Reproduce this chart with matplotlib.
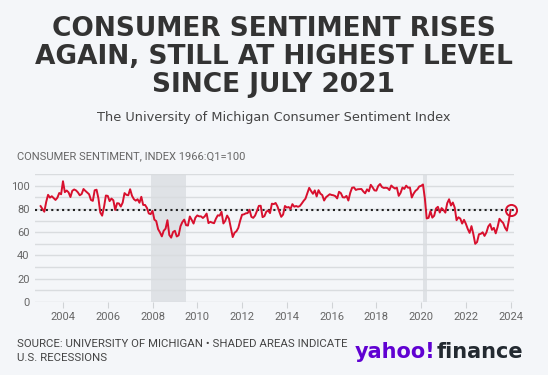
import numpy as np
import matplotlib.pyplot as plt

# monthly index values, Jan 2003 .. Jan 2024
sentiment = [
    82.4, 79.9, 77.6, 86.0, 92.1, 89.7, 90.9, 89.3, 87.7, 89.6, 93.7, 92.6,   # 2003
    103.8, 94.4, 95.8, 94.2, 90.2, 95.6, 96.7, 95.9, 94.2, 91.7, 92.8, 97.1,  # 2004
    95.5, 94.1, 92.6, 87.7, 86.9, 96.0, 96.5, 89.1, 76.9, 74.2, 81.6, 91.5,   # 2005
    91.2, 86.7, 88.9, 87.4, 79.1, 84.9, 84.7, 82.0, 85.4, 93.6, 92.1, 91.7,   # 2006
    96.9, 91.3, 88.4, 87.1, 88.3, 85.3, 90.4, 83.4, 83.4, 80.9, 76.1, 75.5,   # 2007
    78.4, 70.8, 69.5, 62.6, 59.8, 56.4, 61.2, 63.0, 70.3, 57.6, 55.3, 60.1,   # 2008
    61.2, 56.3, 57.3, 65.1, 68.7, 70.8, 66.0, 65.7, 73.5, 70.6, 67.4, 72.5,   # 2009
    74.4, 73.6, 73.6, 72.2, 73.6, 76.0, 67.8, 68.9, 68.2, 67.7, 71.6, 74.5,   # 2010
    74.2, 77.5, 67.5, 69.8, 74.3, 71.5, 63.7, 55.8, 59.5, 60.8, 63.7, 69.9,   # 2011
    75.0, 75.3, 76.2, 76.4, 79.3, 73.2, 72.3, 74.3, 78.3, 82.6, 82.7, 72.9,   # 2012
    73.8, 77.6, 78.6, 76.4, 84.5, 84.1, 85.1, 82.1, 77.5, 73.2, 75.1, 82.5,   # 2013
    81.2, 81.6, 80.0, 84.1, 81.9, 82.5, 81.8, 82.5, 84.6, 86.9, 88.8, 93.6,   # 2014
    98.1, 95.4, 93.0, 95.9, 90.7, 96.1, 93.1, 91.9, 87.2, 90.0, 91.3, 92.6,   # 2015
    92.0, 91.7, 91.0, 89.0, 94.7, 93.5, 90.0, 89.8, 91.2, 87.2, 93.8, 98.2,   # 2016
    98.5, 96.3, 96.9, 97.0, 97.1, 95.0, 93.4, 96.8, 95.1, 100.7, 98.5, 95.9,  # 2017
    95.7, 99.7, 101.4, 98.8, 98.0, 98.2, 97.9, 96.2, 100.1, 98.6, 97.5, 98.3, # 2018
    91.2, 93.8, 98.4, 97.2, 100.0, 98.2, 98.4, 89.8, 93.2, 95.5, 96.8, 99.3,  # 2019
    99.8, 101.0, 89.1, 71.8, 72.3, 78.1, 72.5, 74.1, 80.4, 81.8, 76.9, 80.7,  # 2020
    79.0, 76.8, 84.9, 88.3, 82.9, 85.5, 81.2, 70.3, 72.8, 71.7, 67.4, 70.6,   # 2021
    67.2, 62.8, 59.4, 65.2, 58.4, 50.0, 51.5, 58.2, 58.6, 59.9, 56.8, 59.7,   # 2022
    64.9, 67.0, 62.0, 63.7, 59.0, 64.4, 71.5, 69.5, 67.9, 63.8, 61.3, 69.7,   # 2023
    79.0,                                                                      # 2024
]
dates = 2003 + np.arange(len(sentiment)) / 12.0

recessions = [(2007 + 11/12, 2009 + 6/12), (2020 + 1/12, 2020 + 3/12)]
year_ticks = list(range(2004, 2025, 2))
y_ticks = [0, 20, 40, 60, 80, 100]
ref_level = sentiment[-1]

bg = '#f4f6f9'
red = '#d8102e'
grey_txt = '#666666'

fig = plt.figure(figsize=(5.48, 3.75), dpi=100, facecolor=bg)

# titles
title_lines = ['CONSUMER SENTIMENT RISES', 'AGAIN, STILL AT HIGHEST LEVEL', 'SINCE JULY 2021']
for i, line in enumerate(title_lines):
    fig.text(0.5, 1 - (29.5 + 28 * i) / 375, line, ha='center', va='center',
             fontsize=19, fontweight='bold', color='#333333', family='DejaVu Sans')
fig.text(0.5, 1 - 117/375, 'The University of Michigan Consumer Sentiment Index',
         ha='center', va='center', fontsize=9.3, color='#444444', family='DejaVu Sans')
fig.text(17/548, 1 - 156/375, 'CONSUMER SENTIMENT, INDEX 1966:Q1=100',
         ha='left', va='center', fontsize=8.0, color=grey_txt, family='Roboto')

ax = fig.add_axes([35/548, 73/375, 479/548, 128/375])
ax.set_facecolor(bg)

for a, b in recessions:
    ax.axvspan(a, b, color='#dfe2e6', lw=0, zorder=0)

for v in range(0, 111, 10):
    ax.axhline(v, color='#d9dcdf', lw=1, zorder=1)

ax.axhline(ref_level, color='#222222', lw=1.5, ls=(0, (1, 1.6)), zorder=2)
ax.plot(dates, sentiment, color=red, lw=1.4, zorder=3)
ax.plot(dates[-1], sentiment[-1], 'o', ms=8, mfc='none', mec=red, mew=1.4,
        zorder=4, clip_on=False)

ax.set_xlim(2002.75, 2024.15)
ax.set_ylim(0, 110)
ax.set_xticks(year_ticks)
ax.set_xticklabels([str(y) for y in year_ticks])
ax.set_yticks(y_ticks)
ax.tick_params(axis='x', length=4, color='#d0d3d6', labelsize=8, labelcolor=grey_txt, pad=3)
ax.tick_params(axis='y', length=0, labelsize=8, labelcolor=grey_txt, pad=4)
for lab in ax.get_xticklabels() + ax.get_yticklabels():
    lab.set_family('Roboto')
for s in ax.spines.values():
    s.set_visible(False)

# footer
fig.text(17/548, 1 - 344/375, 'SOURCE: UNIVERSITY OF MICHIGAN \u2022 SHADED AREAS INDICATE',
         ha='left', va='center', fontsize=8.2, color='#444444', family='Roboto')
fig.text(17/548, 1 - 358/375, 'U.S. RECESSIONS',
         ha='left', va='center', fontsize=8.2, color='#444444', family='Roboto')
fig.text(355/548, 1 - 358/375, 'yahoo!', ha='left', va='baseline', fontsize=15,
         fontweight='heavy', color='#6001d2', family='DejaVu Sans')
fig.text(437/548, 1 - 358/375, 'finance', ha='left', va='baseline', fontsize=15,
         fontweight='heavy', color='#232a31', family='DejaVu Sans')

fig.savefig('out.png', dpi=100, facecolor=bg)
